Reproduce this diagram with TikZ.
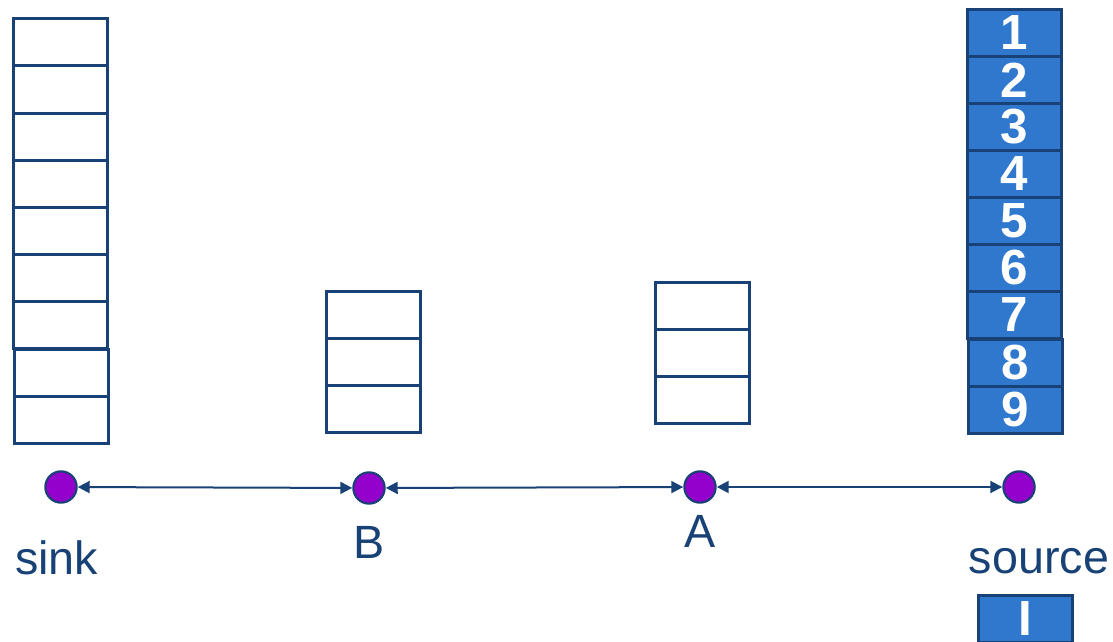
\documentclass[tikz,border=0pt]{standalone}
\usepackage{fontspec}
\setmainfont{Liberation Sans}
\usetikzlibrary{arrows.meta}
\definecolor{edgeblue}{RGB}{24,66,117}
\definecolor{cellblue}{RGB}{47,120,206}
\definecolor{dotpurple}{RGB}{148,0,204}
\tikzset{
  emptycell/.style={draw=edgeblue, line width=2.25pt, fill=white, minimum width=70.5pt, minimum height=35.25pt, inner sep=0pt},
  fullcell/.style={draw=edgeblue, line width=2.25pt, fill=cellblue, minimum width=70.5pt, minimum height=35.25pt, inner sep=0pt, text=white, font=\fontsize{37}{37}\selectfont\bfseries},
  vertex/.style={circle, draw=edgeblue, line width=1.6pt, fill=dotpurple, minimum size=23.5pt, inner sep=0pt},
  vlabel/.style={text=edgeblue, font=\fontsize{35}{35}\selectfont, anchor=base, inner sep=0pt},
  link/.style={draw=edgeblue, line width=1.5pt, {Triangle[length=9pt,width=9pt]}-{Triangle[length=9pt,width=9pt]}}
}
\begin{document}
\begin{tikzpicture}[x=0.75pt,y=-0.75pt]
\useasboundingbox (0,0) rectangle (1113,642);
\clip (0,0) rectangle (1113,642);

% sink buffer: nine empty slots
\foreach \k in {0,...,6} {
  \node[emptycell] (sk\k) at (60,{42.5+47*\k}) {};
}
\node[emptycell] (sk7) at (61,372.5) {};
\node[emptycell] (sk8) at (61,419.5) {};

% node B buffer
\node[emptycell] (b0) at (373,315) {};
\node[emptycell] (b1) at (373,362) {};
\node[emptycell] (b2) at (373,409) {};

% node A buffer
\node[emptycell] (a0) at (702,306) {};
\node[emptycell] (a1) at (702,353) {};
\node[emptycell] (a2) at (702,400) {};

% source buffer with packets 1..9
\foreach \k in {1,...,7} {
  \node[fullcell] (src\k) at (1014,{33+47*(\k-1)}) {\k};
}
\node[fullcell] (src8) at (1015.5,362.5) {8};
\node[fullcell] (src9) at (1015.5,409.5) {9};

% next packet below the source
\node[fullcell] (nxt) at (1025.5,619) {I};

% chain of nodes
\node[vertex] (sink) at (61,487) {};
\node[vertex] (B) at (369,488) {};
\node[vertex] (A) at (700,487) {};
\node[vertex] (source) at (1019,487) {};

\draw[link] (sink) -- (B);
\draw[link] (B) -- (A);
\draw[link] (A) -- (source);

% labels
\node[vlabel] (lsink) at (56.5,574) {sink};
\node[vlabel] (lB) at (369,558) {B};
\node[vlabel] (lA) at (700,547) {A};
\node[vlabel] (lsource) at (1039,573) {source};
\end{tikzpicture}
\end{document}
